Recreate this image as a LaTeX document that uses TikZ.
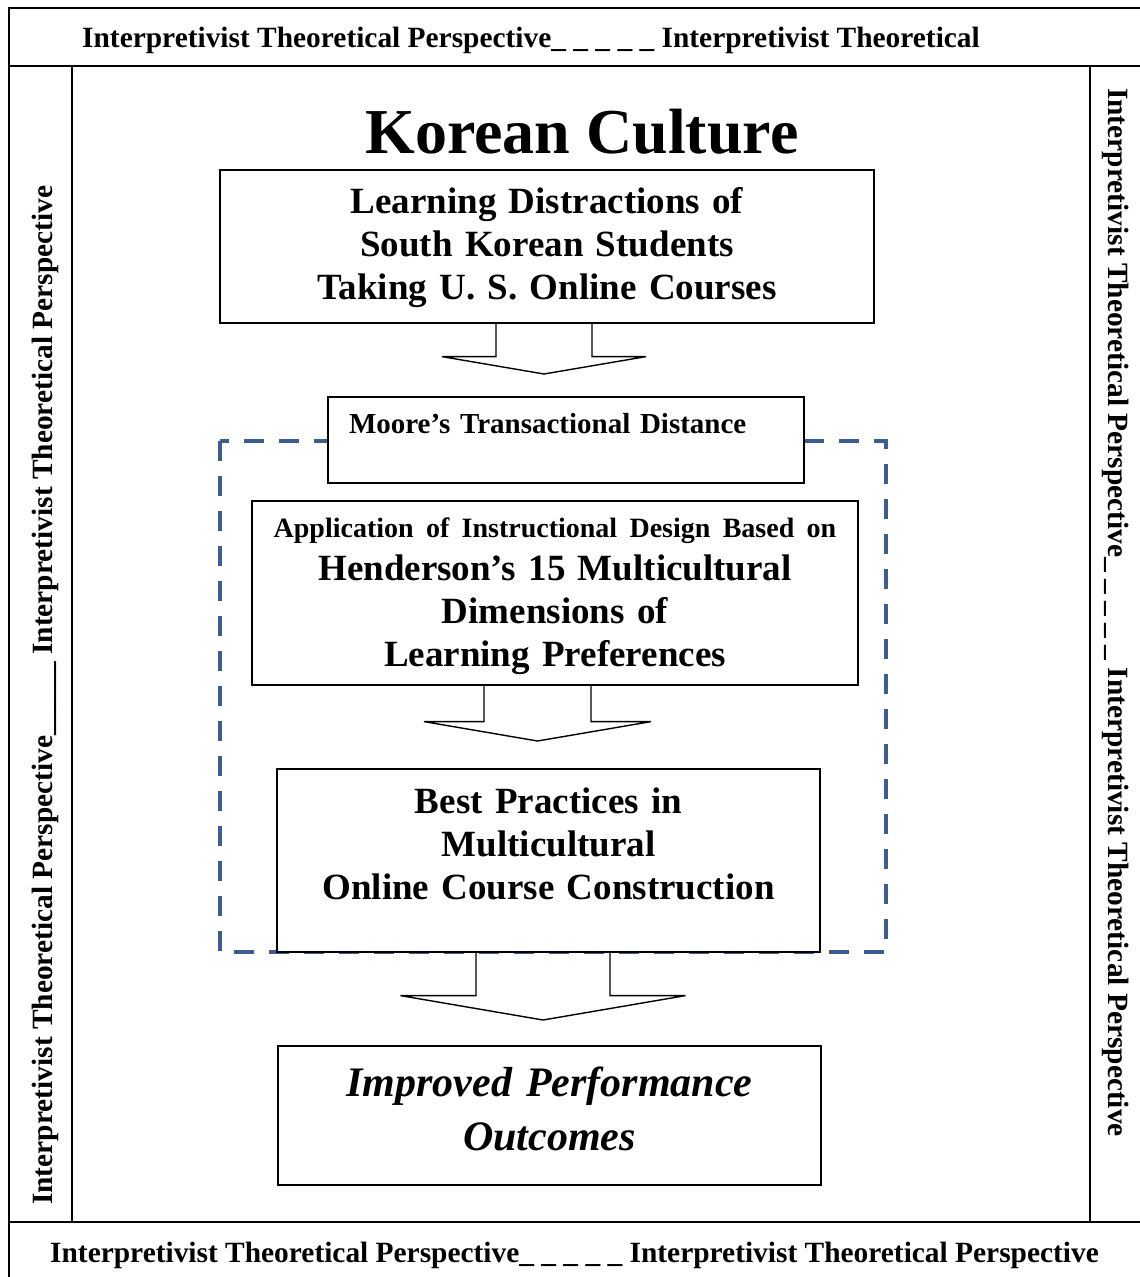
\documentclass[tikz,border=0pt]{standalone}
\usepackage{fontspec}
\setmainfont{Liberation Serif}
\usetikzlibrary{calc}
\definecolor{zoneblue}{HTML}{3B5E8E}
\frenchspacing
% hollow down arrow: from, to, x offset, shaft half width, head half width, shaft length, gap to target
\newcommand{\blockdown}[7]{%
  \draw[blk] let \p1=([xshift=#3]#1.south), \p2=(#2.north) in
    (\x1-#4,\y1) -- (\x1-#4,\y1-#6) -- (\x1-#5,\y1-#6) -- (\x1,\y2+#7)
    -- (\x1+#5,\y1-#6) -- (\x1+#4,\y1-#6) -- (\x1+#4,\y1);}

\begin{document}
\begin{tikzpicture}[x=1pt,y=-1pt,
  box/.style={draw,line width=1.6pt,fill=white,align=center,anchor=north,inner xsep=0pt,inner ysep=0pt},
  band/.style={draw,line width=1.6pt},
  side/.style={inner sep=0pt,font=\bfseries\fontsize{29.4}{34}\selectfont},
  blk/.style={draw,line width=1.4pt,line join=miter},
  zone/.style={draw=zoneblue,line width=3.5pt,dash pattern=on 20pt off 15pt}
]
\useasboundingbox (0,0) rectangle (1140,1277);
\clip (0,0) rectangle (1140,1277);
\draw[band] (9,8) rectangle (1160,66);
\draw[band] (9,66) rectangle (72,1222);
\draw[band] (1090,66) rectangle (1160,1222);
\draw[band] (9,1222) rectangle (1160,1290);
\node[side,anchor=base west] (ptop) at (82,47) {Interpretivist Theoretical Perspective\_ \_ \_ \_ \_ Interpretivist Theoretical};
\node[side,anchor=base west] (pbottom) at (50,1262) {Interpretivist Theoretical Perspective\_ \_ \_ \_ \_ Interpretivist Theoretical Perspective};
\node[side,anchor=base west,rotate=90] (pleft) at (52,1205) {Interpretivist Theoretical Perspective\_\_\_\_\_ Interpretivist Theoretical Perspective};
\node[side,anchor=base west,rotate=-90] (pright) at (1108,88) {Interpretivist Theoretical Perspective\_ \_ \_ \_ \_ Interpretivist Theoretical Perspective};
\draw[zone] (220,441) rectangle (886,952);
\node[inner sep=0pt,anchor=base,font=\bfseries\fontsize{64}{70}\selectfont] (culture) at (582,153) {Korean Culture};
\node[box,text width=654pt,text height=44pt,text depth=109pt,font=\bfseries\fontsize{37}{43}\selectfont] (distract) at (547,169) {Learning Distractions of\\South Korean Students\\Taking U. S. Online Courses};
\node[box,align=left,text width=434pt,inner xsep=21pt,text height=37pt,text depth=49pt,font=\bfseries\fontsize{29}{34}\selectfont] (moore) at (566,396) {Moore’s Transactional Distance};
\node[box,text width=606pt,text height=37pt,text depth=147pt,font=\bfseries\fontsize{37}{43}\selectfont] (henderson) at (555,500) {{\fontsize{28}{43}\selectfont Application of Instructional Design Based on}\\Henderson’s 15 Multicultural\\Dimensions of\\Learning Preferences};
\node[box,text width=543pt,text height=45pt,text depth=138pt,font=\bfseries\fontsize{37}{43}\selectfont] (practice) at (548.5,768) {Best Practices in\\Multicultural\\Online Course Construction};
\node[box,text width=543pt,text height=51pt,text depth=88pt,font=\bfseries\itshape\fontsize{42}{54}\selectfont] (outcome) at (549.5,1045) {Improved Performance\\Outcomes};
\blockdown{distract}{moore}{-3}{48}{102}{33}{22}
\blockdown{henderson}{practice}{-17.5}{53.5}{113.5}{36}{27}
\blockdown{practice}{outcome}{-5.5}{67}{142.5}{43}{25}
\end{tikzpicture}
\end{document}
